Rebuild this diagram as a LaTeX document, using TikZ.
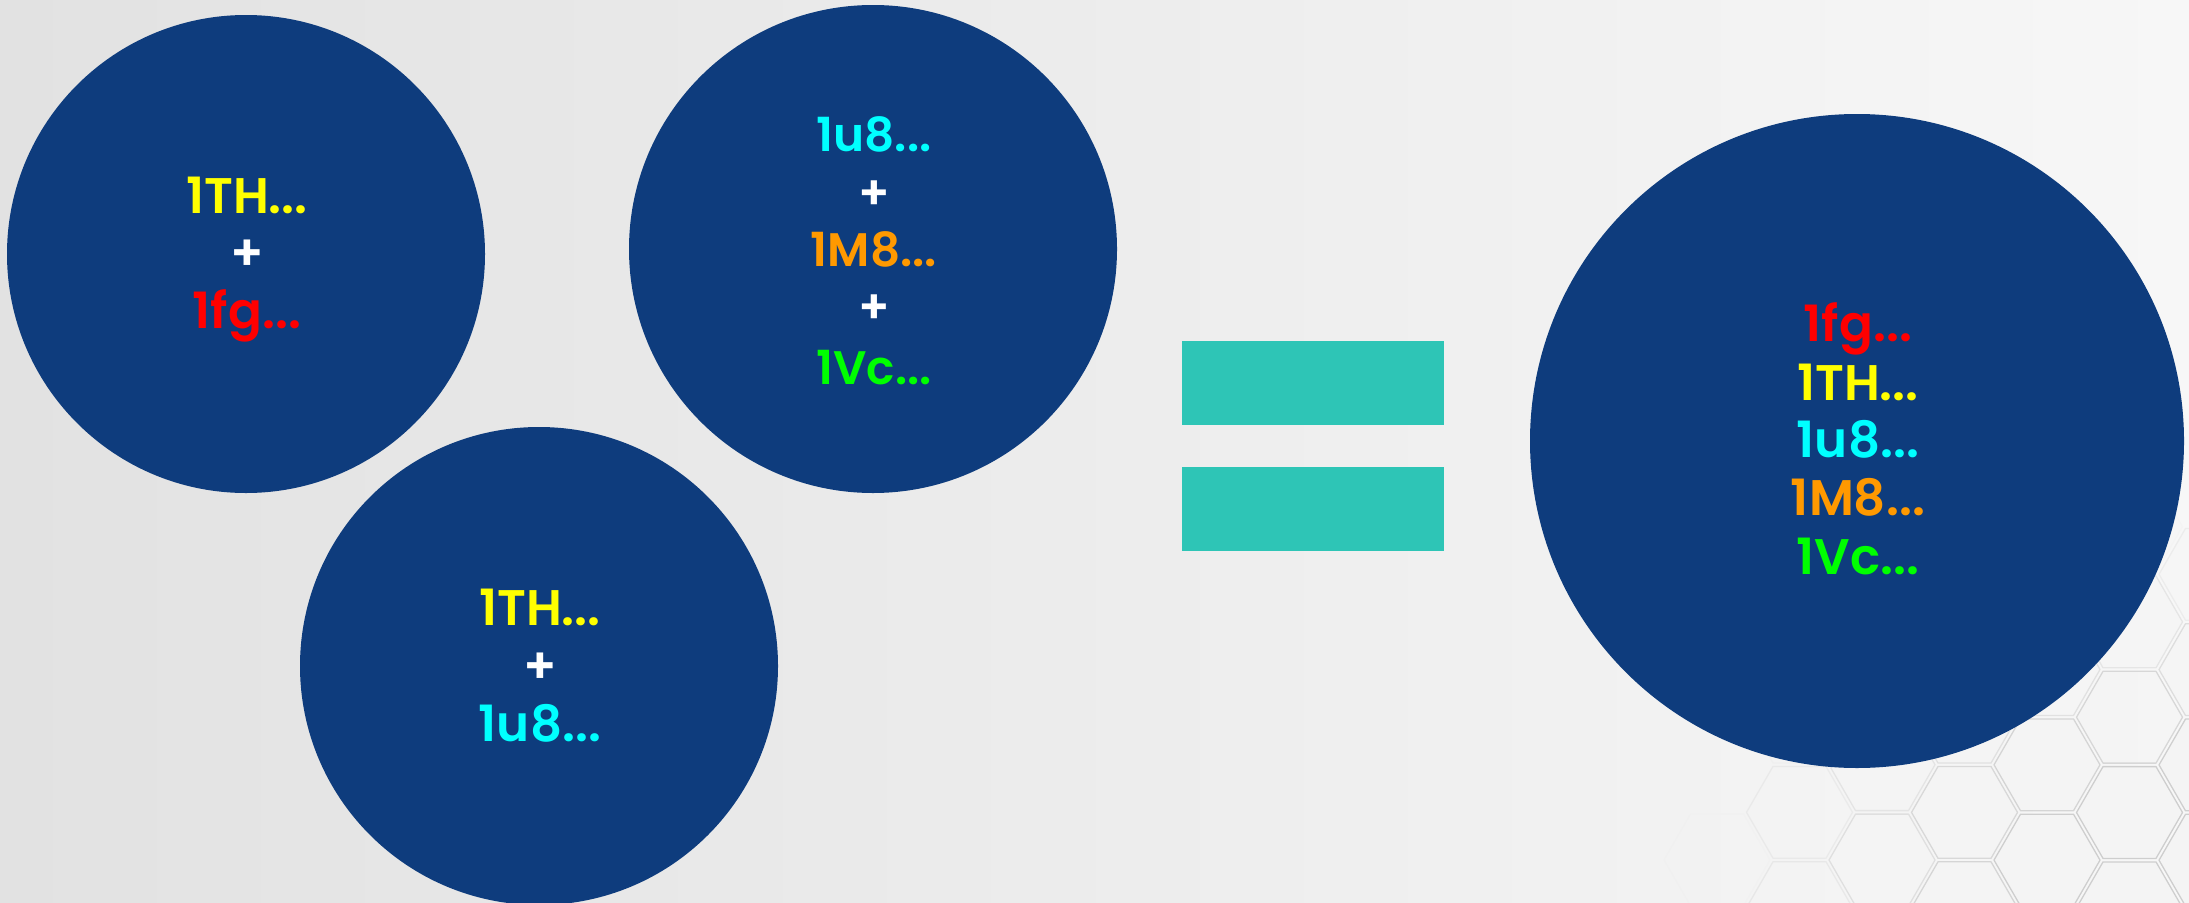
\documentclass[tikz,border=0pt]{standalone}
\usepackage{fontspec}
\setmainfont{Poppins}[BoldFont={Poppins SemiBold}]
\definecolor{bgL}{RGB}{226,226,226}
\definecolor{bgM}{RGB}{231,231,231}
\definecolor{bgR}{RGB}{247,247,247}
\definecolor{circ}{RGB}{14,60,125}
\definecolor{teal}{RGB}{46,197,182}
\definecolor{cyel}{RGB}{255,255,0}
\definecolor{cred}{RGB}{255,0,0}
\definecolor{ccya}{RGB}{0,255,255}
\definecolor{cora}{RGB}{255,153,0}
\definecolor{cgre}{RGB}{0,255,0}
\definecolor{hexc}{RGB}{200,200,200}
\definecolor{hexf}{RGB}{244,244,244}
\begin{document}
\begin{tikzpicture}[x=1pt,y=-1pt,
  disc/.style={circle, fill=circ, draw=none, inner sep=0pt, outer sep=0pt, minimum size=#1},
  bar/.style={rectangle, fill=teal, draw=none, inner sep=0pt, minimum width=262pt, minimum height=84pt},
  txt/.style={font=\bfseries\fontsize{50pt}{60pt}\selectfont, text height=35pt, text depth=0pt, inner sep=0pt, anchor=center},
  txts/.style={font=\bfseries\fontsize{47pt}{56pt}\selectfont, text height=33pt, text depth=0pt, inner sep=0pt, anchor=center},
  hexline/.style={draw=hexc, fill=hexf, line width=1.3pt, line join=round}]
\useasboundingbox (0,0) rectangle (2189,902);
\shade[left color=bgL, middle color=bgM, right color=bgR] (0,0) rectangle (2189,902);
% hexagon texture, bottom right
\begin{scope}
\clip (0,0) rectangle (2189,902);
\foreach \i in {-4,...,4}{
  \foreach \j in {-4,...,3}{
    \pgfmathsetmacro\cx{1882+82.5*\i}
    \pgfmathsetmacro\cy{860-47.6*\i+95.3*\j}
    \pgfmathsetmacro\dd{100*sqrt(((2189-\cx)/125)^2+((902-\cy)/100)^2)}
    \pgfmathsetmacro\op{max(0,min(0.85,1.3-\dd/300))}
    \draw[hexline, draw opacity=\op, fill opacity=\op] (\cx,\cy) +(0:53) -- +(60:53) -- +(120:53) -- +(180:53) -- +(240:53) -- +(300:53) -- cycle;
  }
}
\end{scope}
% circles
\node[disc=478pt] (c1) at (246,254) {};
\node[disc=488pt] (c2) at (873,249) {};
\node[disc=478pt] (c3) at (539,666) {};
\node[disc=654pt] (c4) at (1857,441) {};
% equals sign
\node[bar] (eqa) at (1313,383) {};
\node[bar] (eqb) at (1313,509) {};
% circle 1
\node[txt, text=cyel] (a1) at (247,196) {1TH...};
\node[txt, text=white] (a2) at (247,253) {+};
\node[txt, text=cred] (a3) at (247,311) {1fg...};
% circle 2
\node[txts, text=ccya] (b1) at (874,135) {1u8...};
\node[txts, text=white] (b2) at (874,193) {+};
\node[txts, text=cora] (b3) at (874,250) {1M8...};
\node[txts, text=white] (b4) at (874,307) {+};
\node[txts, text=cgre] (b5) at (874,368) {1Vc...};
% circle 3
\node[txt, text=cyel] (d1) at (540,608) {1TH...};
\node[txt, text=white] (d2) at (540,666) {+};
\node[txt, text=ccya] (d3) at (540,724) {1u8...};
% circle 4
\node[txt, text=cred] (e1) at (1858,324) {1fg...};
\node[txt, text=cyel] (e2) at (1858,383) {1TH...};
\node[txt, text=ccya] (e3) at (1858,440) {1u8...};
\node[txt, text=cora] (e4) at (1858,498) {1M8...};
\node[txt, text=cgre] (e5) at (1858,557) {1Vc...};
\end{tikzpicture}
\end{document}
